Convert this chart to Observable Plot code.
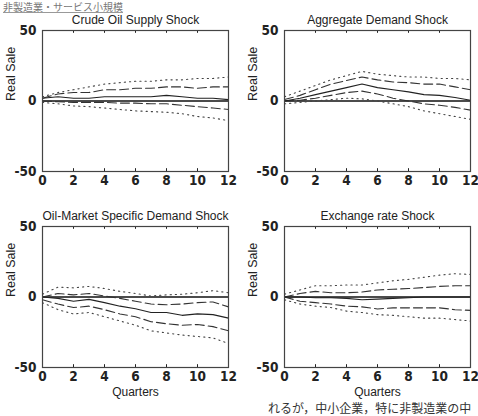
<!DOCTYPE html>
<html>
<head>
<meta charset="utf-8">
<script src="https://cdn.jsdelivr.net/npm/d3@7"></script>
<script src="https://cdn.jsdelivr.net/npm/@observablehq/plot@0.6"></script>
<style>
  html, body { margin: 0; padding: 0; background: white; }
  body { width: 478px; height: 416px; overflow: hidden; position: relative; }
  .panel { position: absolute; }
  .panel svg { background: none !important; overflow: visible; }
  .panel [aria-label^="x-axis"] text, .panel [aria-label^="y-axis"] text {
    font-family: "Liberation Sans Narrow", "DejaVu Sans Condensed", sans-serif;
    font-weight: bold; font-size: 13.5px; fill: #222;
  }
  #header { position: absolute; left: 3px; top: 0px; font: 10px/13px "Noto Sans CJK JP", sans-serif;
    color: #777; text-decoration: underline; text-decoration-color: #999; white-space: nowrap; }
  #footer { position: absolute; left: 268px; top: 401px; font: 12px/14px "Noto Sans CJK JP", sans-serif;
    color: #333; white-space: nowrap; }
</style>
</head>
<body>
<div id="header">非製造業・サービス小規模</div>
<div id="footer">れるが，中小企業，特に非製造業の中</div>
<script>
// ---- data ----
const quarters = [0, 1, 2, 3, 4, 5, 6, 7, 8, 9, 10, 11, 12];
const xTicks = [0, 2, 4, 6, 8, 10, 12];
const yTicks = [-50, 0, 50];
const titles = ["Crude Oil Supply Shock", "Aggregate Demand Shock", "Oil-Market Specific Demand Shock", "Exchange rate Shock"];
const yLabel = "Real Sale";
const xLabel = "Quarters";

// Crude Oil Supply Shock
const supplyMedian = [2, 3, 2, 2, 3, 3, 3, 3, 4, 3, 2, 2, 1];
const supplyUpper = [2, 5, 6, 6, 8, 8, 9, 9, 10, 10, 9, 10, 10];
const supplyLower = [0, -0.5, -1, -1, -1, -1.5, -1.5, -2, -2, -3, -4, -5, -6];
const supplyUpperOuter = [3, 6, 8, 10, 12, 13, 14, 14, 15, 15, 16, 16, 17];
const supplyLowerOuter = [-1, -2, -3.5, -4, -5, -6, -7, -7.5, -8, -9, -11, -12, -14];

// Aggregate Demand Shock
const demandMedian = [0, 2, 4.5, 7, 9.5, 12, 9.5, 8, 6.5, 4.5, 4, 2.5, 0.5];
const demandUpper = [1, 4, 8, 12, 14.5, 17, 15, 13.5, 13, 12, 12, 10, 8];
const demandLower = [0, 0.5, 2, 4, 6, 7, 5, 2, 0, -2, -3, -4.5, -6.5];
const demandUpperOuter = [3, 7, 11, 15, 18, 21, 19, 18, 17, 17, 16, 16, 15];
const demandLowerOuter = [-2, -1, 0, 1, 2, 1.5, 0, -2, -4, -7, -9, -11, -13];

// Oil-Market Specific Demand Shock
const oilMedian = [0, -1, -3, -1.7, -4, -6.5, -8.3, -11, -11, -13, -12, -12.5, -15];
const oilUpper = [0, 2.5, 1.5, 2.5, 0.7, -1, -3, -5, -5.5, -5, -4, -3.5, -7];
const oilLower = [-2, -5, -7.5, -6.5, -9, -12, -14, -17.5, -19, -20, -19.5, -21, -24];
const oilUpperOuter = [2, 7, 6.5, 7.5, 6, 4, 2.5, 0.7, 1.5, 2, 3, 4.5, 3];
const oilLowerOuter = [-4, -9, -12, -11, -14, -17, -20, -24, -25.5, -27, -28, -29, -33];

// Exchange rate Shock
const fxMedian = [0, 0, -0.5, -0.5, -1, -2, -1.5, -1, -0.5, 0, 0, 0, 0];
const fxUpper = [0, 2.5, 4, 3, 3, 3.5, 5, 5.5, 6, 6.7, 7.5, 8, 8];
const fxLower = [0, -3, -4, -5, -6.5, -7, -8.5, -7.7, -7.7, -7.7, -7.7, -9, -9.5];
const fxUpperOuter = [2, 5, 8, 8, 8.5, 8.5, 10, 11.5, 12.5, 14, 15.5, 16.5, 16];
const fxLowerOuter = [-2, -5, -6.5, -7.5, -10, -11, -12.5, -13, -14, -15, -15, -16, -17];

// ---- drawing ----
function toRows(values) { return quarters.map((q, i) => ({q, v: values[i]})); }

const labelFont = "Liberation Sans, Arial, sans-serif";

function panel({left, top, width, title, series, bottom}) {
  const [median, upper, lower, upperOuter, lowerOuter] = series;
  const marks = [
    Plot.ruleY([0], {stroke: "#111", strokeWidth: 1.5}),
    Plot.line(toRows(upperOuter), {x: "q", y: "v", stroke: "#444", strokeWidth: 1.1, strokeDasharray: "1.2,4"}),
    Plot.line(toRows(lowerOuter), {x: "q", y: "v", stroke: "#444", strokeWidth: 1.1, strokeDasharray: "1.2,4"}),
    Plot.line(toRows(upper), {x: "q", y: "v", stroke: "#333", strokeWidth: 1.1, strokeDasharray: "9,4"}),
    Plot.line(toRows(lower), {x: "q", y: "v", stroke: "#333", strokeWidth: 1.1, strokeDasharray: "9,4"}),
    Plot.line(toRows(median), {x: "q", y: "v", stroke: "#222", strokeWidth: 1.1}),
    Plot.ruleX(xTicks, {x: d => d, y1: -50, y2: -48, stroke: "#222"}),
    Plot.ruleX(xTicks, {x: d => d, y1: 50, y2: 48, stroke: "#222"}),
    Plot.frame({stroke: "#444", strokeWidth: 1.2}),
    Plot.text([title], {frameAnchor: "top", lineAnchor: "middle", dy: -10, fontSize: 12, fill: "#222",
      fontFamily: labelFont}),
    Plot.text([yLabel], {frameAnchor: "left", dx: -32, rotate: -90, fontSize: 12.5, fill: "#222",
      fontFamily: labelFont})
  ];
  if (bottom) {
    marks.push(Plot.text([xLabel], {frameAnchor: "bottom", lineAnchor: "middle", dy: 25, fontSize: 12, fill: "#222",
      fontFamily: labelFont}));
  }
  const chart = Plot.plot({
    width,
    height: bottom ? 196 : 181,
    marginLeft: 42,
    marginRight: width - 42 - 186,
    marginTop: 20,
    marginBottom: bottom ? 35 : 20,
    style: {background: "none", overflow: "visible"},
    x: {domain: [0, 12], ticks: xTicks, tickSize: 0, tickPadding: 4, label: null, tickFormat: d => String(d)},
    y: {domain: [-50, 50], ticks: yTicks, tickSize: 0, tickPadding: 6, label: null, tickFormat: d => String(d)},
    marks
  });
  const div = document.createElement("div");
  div.className = "panel";
  div.style.left = left + "px";
  div.style.top = top + "px";
  div.appendChild(chart);
  document.body.appendChild(div);
}

panel({left: 0, top: 10, width: 238, title: titles[0],
  series: [supplyMedian, supplyUpper, supplyLower, supplyUpperOuter, supplyLowerOuter], bottom: false});
panel({left: 242, top: 10, width: 236, title: titles[1],
  series: [demandMedian, demandUpper, demandLower, demandUpperOuter, demandLowerOuter], bottom: false});
panel({left: 0, top: 206, width: 238, title: titles[2],
  series: [oilMedian, oilUpper, oilLower, oilUpperOuter, oilLowerOuter], bottom: true});
panel({left: 242, top: 206, width: 236, title: titles[3],
  series: [fxMedian, fxUpper, fxLower, fxUpperOuter, fxLowerOuter], bottom: true});
</script>
</body>
</html>
